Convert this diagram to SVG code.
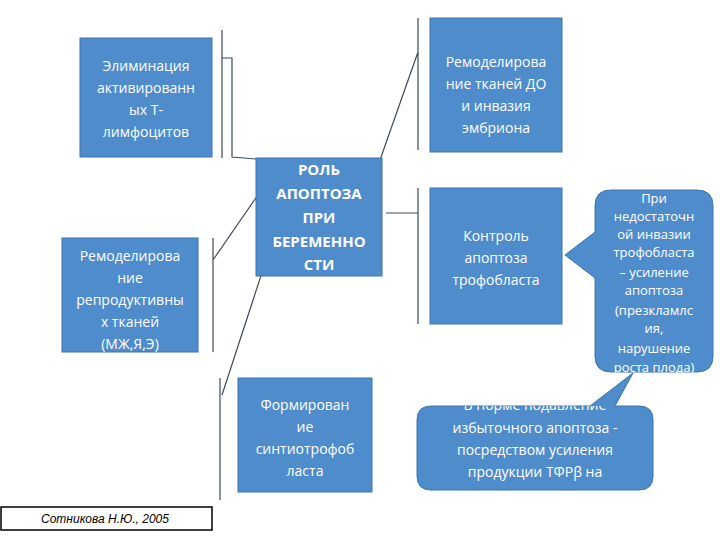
<svg xmlns="http://www.w3.org/2000/svg" width="720" height="540" viewBox="0 0 720 540">
<style>
.b{fill:#4f8ccc;stroke:#3d74ad;stroke-width:1}
.t{font-family:"Open Sans","DejaVu Sans",sans-serif;font-size:14px;fill:#fff;text-anchor:middle}
.tb{font-family:"Open Sans","DejaVu Sans",sans-serif;font-size:15px;font-weight:bold;fill:#fff;text-anchor:middle}
.c{fill:none;stroke:#3f4a5a;stroke-width:1.2}
</style>
<defs><clipPath id="cp"><rect x="417" y="406" width="236" height="84" rx="14"/></clipPath></defs>
<rect width="720" height="540" fill="#fff"/>
<g id="connectors">
<path class="c" d="M222,30 V158 M222,58 H232 V157 L268,160"/>
<path class="c" d="M380,160 L418,52 M418,18 V150"/>
<path class="c" d="M386,213 H418 M418,188 V324"/>
<path class="c" d="M260,192 L213,260 M213,238 V352"/>
<path class="c" d="M272,242 L222,395 M220,378 V500"/>
</g>
<g id="n1"><rect class="b" x="80" y="38" width="132" height="119"/>
<text class="t" x="146" y="71">Элиминация</text><text class="t" x="146" y="93">активированн</text><text class="t" x="146" y="115">ых Т-</text><text class="t" x="146" y="137">лимфоцитов</text></g>
<g id="n2"><rect class="b" x="430" y="18" width="132" height="134"/>
<text class="t" x="496" y="67">Ремоделирова</text><text class="t" x="496" y="89">ние тканей ДО</text><text class="t" x="496" y="111">и инвазия</text><text class="t" x="496" y="133">эмбриона</text></g>
<g id="n3"><rect class="b" x="256" y="158" width="126" height="118"/>
<text class="tb" x="319" y="175">РОЛЬ</text><text class="tb" x="319" y="199">АПОПТОЗА</text><text class="tb" x="319" y="223">ПРИ</text><text class="tb" x="319" y="247">БЕРЕМЕННО</text><text class="tb" x="319" y="270">СТИ</text></g>
<g id="n4"><rect class="b" x="430" y="188" width="132" height="136"/>
<text class="t" x="496" y="241">Контроль</text><text class="t" x="496" y="263">апоптоза</text><text class="t" x="496" y="285">трофобласта</text></g>
<g id="n5"><rect class="b" x="62" y="238" width="136" height="114"/>
<text class="t" x="130" y="261">Ремоделирова</text><text class="t" x="130" y="283">ние</text><text class="t" x="130" y="305">репродуктивны</text><text class="t" x="130" y="327">х тканей</text><text class="t" x="130" y="349">(МЖ,Я,Э)</text></g>
<g id="n6"><rect class="b" x="238" y="378" width="134" height="114"/>
<text class="t" x="305" y="410">Формирован</text><text class="t" x="305" y="432">ие</text><text class="t" x="305" y="454">синтиотрофоб</text><text class="t" x="305" y="476">ласта</text></g>
<g id="n7"><path class="b" d="M611,190 H697 Q713,190 713,206 V356 Q713,372 697,372 H611 Q595,372 595,356 V278 L565,255 L595,232 V206 Q595,190 611,190 Z"/>
<g class="t" style="font-size:13px"><text x="654" y="203">При</text><text x="654" y="221">недостаточн</text><text x="654" y="239">ой инвазии</text><text x="654" y="257">трофобласта</text><text x="654" y="277">– усиление</text><text x="654" y="295">апоптоза</text><text x="654" y="315">(презкламлс</text><text x="654" y="333">ия,</text><text x="654" y="353">нарушение</text><text x="654" y="372">роста плода)</text></g></g>
<g id="n8"><path class="b" d="M431,406 H590 L633,373 L615,406 H639 Q653,406 653,420 V476 Q653,490 639,490 H431 Q417,490 417,476 V420 Q417,406 431,406 Z"/>
<g class="t" clip-path="url(#cp)"><text x="535" y="410">В норме подавление</text><text x="535" y="433">избыточного апоптоза -</text><text x="535" y="455">посредством усиления</text><text x="535" y="477">продукции ТФРβ на</text><text x="535" y="499">ранних сроках</text></g></g>
<g id="cite"><rect x="1" y="507" width="211" height="23" fill="#fff" stroke="#000" stroke-width="1.5"/>
<text x="105" y="523" style="font-family:'Liberation Sans',sans-serif;font-size:12px;font-style:italic;text-anchor:middle">Сотникова Н.Ю., 2005</text></g>
</svg>
